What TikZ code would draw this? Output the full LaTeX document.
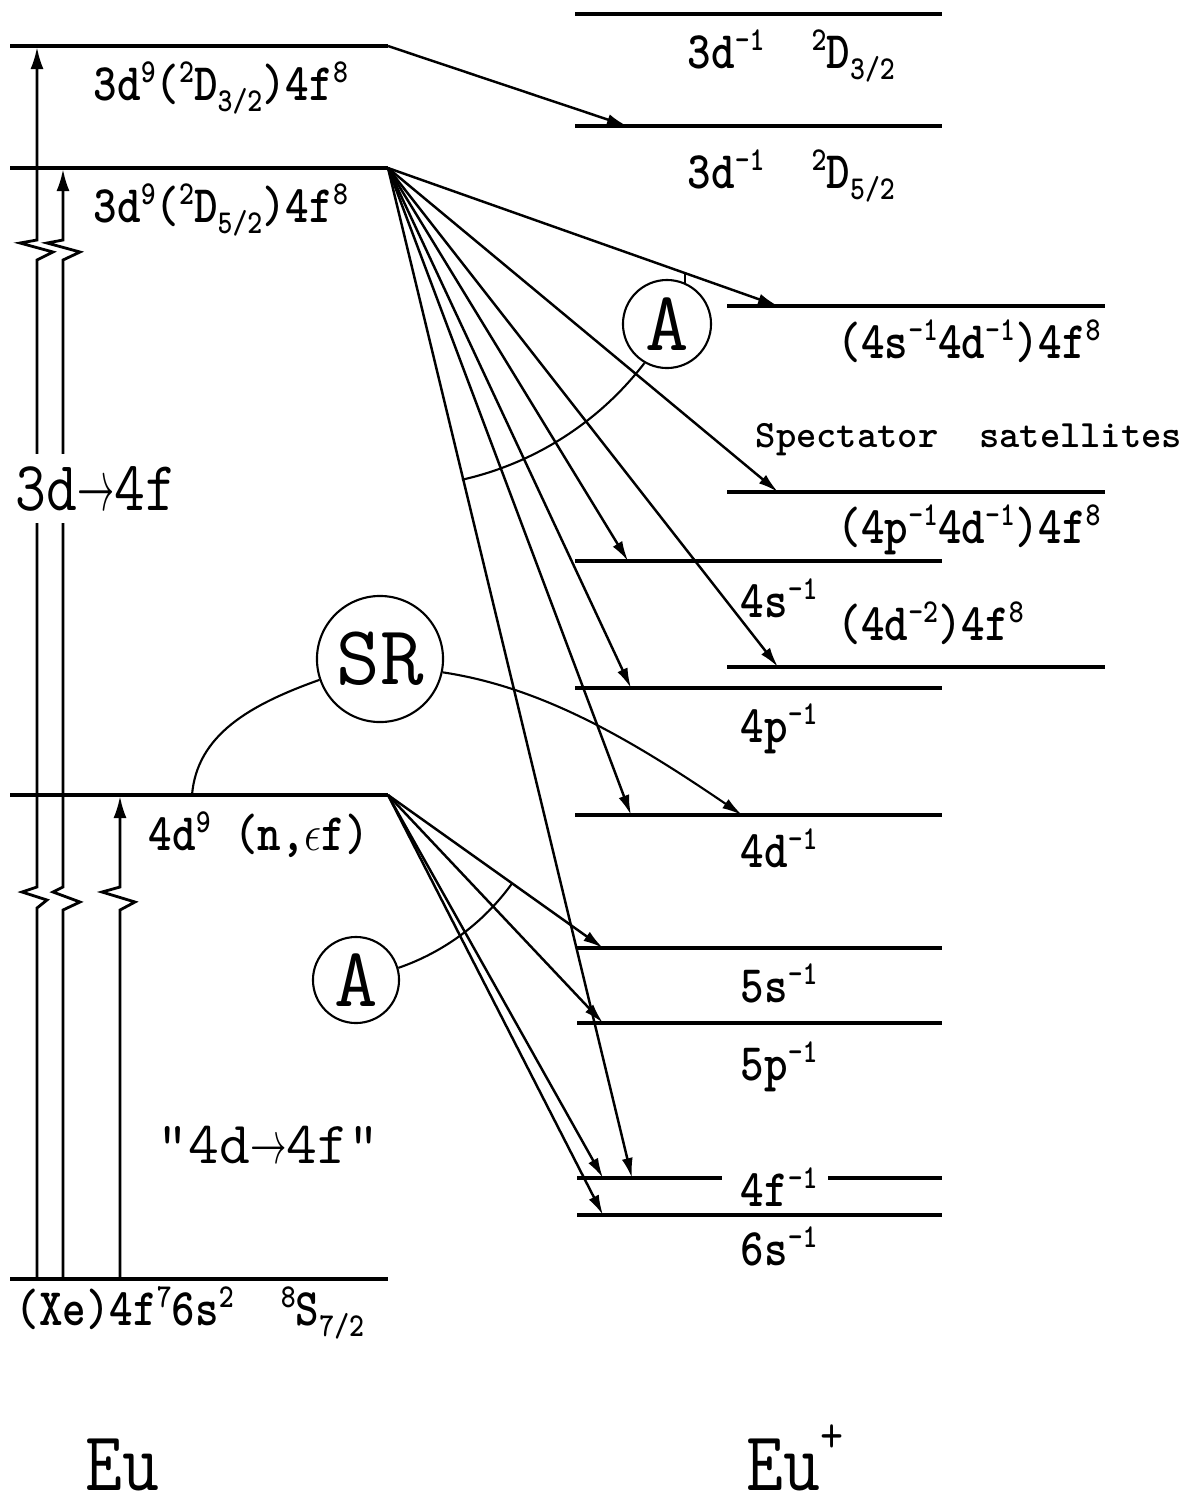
\documentclass[tikz,border=0pt]{standalone}
\usepackage{tikz}
\usetikzlibrary{arrows.meta}
\newcommand\supx[1]{\raisebox{0.33em}{\fontsize{9.5}{9.5}\selectfont #1}}
\newcommand\subx[1]{\raisebox{-0.22em}{\fontsize{9.5}{9.5}\selectfont #1}}
\newcommand\labfont{\fontsize{15}{18}\ttfamily\fontseries{b}\selectfont}
\newcommand\nar[1]{\scalebox{0.85}[1]{#1}}
\newcommand\shortto{\scalebox{0.6}[1]{$\rightarrow$}}

\begin{document}
\begin{tikzpicture}[x=0.01cm, y=-0.01cm,
  lvl/.style={line width=1.1pt},
  tr/.style={line width=0.7pt, -{Latex[length=2mm,width=1.1mm]}},
  vup/.style={line width=0.8pt, -{Latex[length=2.2mm,width=1.3mm]}},
  hook/.style={line width=0.6pt},
  ring/.style={circle, draw, line width=0.6pt, inner sep=0pt, font=\fontsize{24}{24}\selectfont\ttfamily},
  lab/.style={inner sep=0pt, anchor=base west, font=\labfont}]
\useasboundingbox (0,0) rectangle (1202,1511);

% Eu levels
\draw[lvl] (10,46) -- (388,46) coordinate (d3R);
\draw[lvl] (10,168) -- (388,168) coordinate (d5R);
\draw[lvl] (10,795) -- (388,795) coordinate (n4R);
\draw[lvl] (10,1279) -- (388,1279);

% Eu+ levels
\draw[lvl] (575,14) -- (942,14);
\draw[lvl] (575,126) -- (942,126);
\draw[lvl] (727,306) -- (1105,306);
\draw[lvl] (727,492) -- (1105,492);
\draw[lvl] (575,561) -- (942,561);
\draw[lvl] (727,667) -- (1105,667);
\draw[lvl] (575,688) -- (942,688);
\draw[lvl] (575,815) -- (942,815);
\draw[lvl] (577,948) -- (942,948);
\draw[lvl] (577,1023) -- (942,1023);
\draw[lvl] (577,1178) -- (722,1178) (828,1178) -- (942,1178);
\draw[lvl] (577,1215) -- (942,1215);

% end points of the transitions
\coordinate (g1) at (37,1279);
\coordinate (g2) at (63,1279);
\coordinate (g3) at (120,1279);
\coordinate (u1) at (37,47);
\coordinate (u2) at (63,169);
\coordinate (u3) at (120,796);
\coordinate (k0) at (627,126);
\coordinate (k1) at (778,306);
\coordinate (k2) at (778,492);
\coordinate (k3) at (778,667);
\coordinate (k4) at (628,561);
\coordinate (k5) at (631,688);
\coordinate (k6) at (631,815);
\coordinate (k7) at (632,1178);
\coordinate (m1) at (603,948);
\coordinate (m2) at (603,1023);
\coordinate (m3) at (603,1178);
\coordinate (m4) at (603,1215);
\coordinate (srL) at (192,795);
\coordinate (srT) at (742,815);

% excitations
\draw[vup] (g1) -- (37,908) -- ++(10,-8) -- ++(-25,-8) -- ++(15,-5) -- (37,260) -- ++(16,-8) -- ++(-33,-9) -- ++(17,-3) -- (u1);
\draw[vup] (g2) -- (63,910) -- ++(17,-8) -- ++(-27,-10) -- ++(10,-5) -- (63,260) -- ++(17,-8) -- ++(-33,-9) -- ++(16,-3) -- (u2);
\draw[vup] (g3) -- (120,910) -- ++(15,-8) -- ++(-33,-10) -- ++(18,-5) -- (u3);

% decays
\draw[tr] (d3R) -- (k0);
\foreach \t in {k1,k2,k3,k4,k5,k6,k7}
  \draw[tr] (d5R) -- (\t);
\foreach \t in {m1,m2,m3,m4}
  \draw[tr] (n4R) -- (\t);

% Auger and SR markers
\node[ring, minimum size=0.88cm] (augA) at (667,324) {A};
\node[ring, minimum size=0.86cm] (augB) at (356,980) {A};
\node[ring, minimum size=1.26cm] (sr) at (380,659) {SR};
\draw[hook] (augA.66) -- ++(0,-10);
\draw[hook] (augA.-120) arc[start angle=-37.5, end angle=-77.3, radius=3.18cm];
\draw[hook] (augB.16) arc[start angle=-71, end angle=-36, radius=2.34cm];
\draw[hook] (sr.199) .. controls +(-70,25) and +(5,-60) .. (srL);
\draw[hook, -{Latex[length=2mm,width=1.1mm]}] (sr.-12) .. controls +(100,15) and +(-110,-75) .. (srT);

% Eu labels
\node[lab] (l3a) at (93,100) {\nar{3d\supx{9}(\supx{2}D\subx{3/2})4f\supx{8}}};
\node[lab] (l5a) at (93,222) {\nar{3d\supx{9}(\supx{2}D\subx{5/2})4f\supx{8}}};
\node[lab] (l4d) at (148,850) {\nar{4d\supx{9} (n,\ensuremath{\epsilon}f)}};
\node[lab] (lgs) at (15,1325) {\nar{(Xe)4f\supx{7}6s\supx{2}\ \ \supx{8}S\subx{7/2}}};
\node[anchor=base west, inner sep=0pt, inner ysep=1.2mm, fill=white,
  font=\fontsize{20}{20}\selectfont\ttfamily] (big3d) at (15,510) {\nar{3d\shortto4f}};
\node[anchor=base west, inner sep=0pt, font=\fontsize{17}{17}\selectfont\ttfamily]
  (big4d) at (157,1163) {"4d\shortto4f"};
\node[anchor=base west, inner sep=0pt, font=\fontsize{24}{24}\selectfont\ttfamily]
  (eu) at (85,1490) {\nar{Eu}};

% Eu+ labels
\node[lab] (r3a) at (687,68) {\nar{3d\supx{-1}\ \ \supx{2}D\subx{3/2}}};
\node[lab] (r5a) at (687,188) {\nar{3d\supx{-1}\ \ \supx{2}D\subx{5/2}}};
\node[lab] (r4s4d) at (837,358) {\nar{(4s\supx{-1}4d\supx{-1})4f\supx{8}}};
\node[lab, font=\fontsize{11}{13}\ttfamily\fontseries{b}\selectfont] (spec) at (755,447) {Spectator\ \ satellites};
\node[lab] (r4p4d) at (837,543) {\nar{(4p\supx{-1}4d\supx{-1})4f\supx{8}}};
\node[lab] (r4s) at (740,617) {\nar{4s\supx{-1}}};
\node[lab] (r4d2) at (837,640) {\nar{(4d\supx{-2})4f\supx{8}}};
\node[lab] (r4p) at (740,742) {\nar{4p\supx{-1}}};
\node[lab] (r4d) at (740,867) {\nar{4d\supx{-1}}};
\node[lab] (r5s) at (740,1002) {\nar{5s\supx{-1}}};
\node[lab] (r5p) at (740,1080) {\nar{5p\supx{-1}}};
\node[lab] (r4f) at (740,1206) {\nar{4f\supx{-1}}};
\node[lab] (r6s) at (740,1265) {\nar{6s\supx{-1}}};
\node[anchor=base west, inner sep=0pt, font=\fontsize{24}{24}\selectfont\ttfamily]
  (eup) at (746,1490) {\nar{Eu\raisebox{0.45em}{\fontsize{15}{15}\selectfont +}}};
\end{tikzpicture}
\end{document}
